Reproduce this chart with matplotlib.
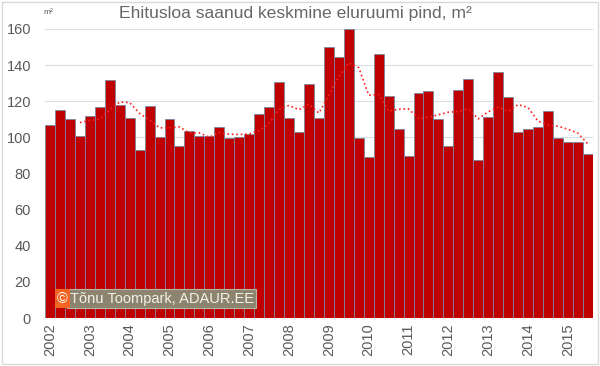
import matplotlib
matplotlib.use("Agg")
import matplotlib.pyplot as plt
import matplotlib.patches as patches
import pandas as pd

# quarterly average floor area, 2002 Q1 .. 2015 Q3
years = list(range(2002, 2016))
values = [
    106.7, 115.0, 110.0, 101.0,   # 2002
    111.7, 117.0, 131.6, 117.8,   # 2003
    110.7, 92.8, 117.2, 100.4,    # 2004
    110.4, 95.2, 103.5, 100.8,    # 2005
    100.8, 105.6, 99.7, 100.2,    # 2006
    101.9, 112.8, 116.7, 130.5,   # 2007
    110.7, 103.2, 129.4, 110.5,   # 2008
    149.9, 144.7, 159.9, 99.8,    # 2009
    89.0, 146.2, 122.7, 104.5,    # 2010
    89.7, 124.6, 125.7, 110.0,    # 2011
    95.4, 126.0, 132.1, 87.3,     # 2012
    111.3, 136.0, 122.5, 102.8,   # 2013
    104.6, 105.9, 114.6, 99.7,    # 2014
    97.6, 97.6, 90.6,             # 2015
]
title = "Ehitusloa saanud keskmine eluruumi pind, m²"

plt.rcParams['font.family'] = ['Liberation Sans', 'DejaVu Sans']
grey = '#595959'

fig = plt.figure(figsize=(6, 3.66), dpi=100)
ax = fig.add_axes([0.075, 0.131, 0.913, 0.79])

x = list(range(len(values)))
ax.bar(x, values, width=1.0, color='#C00000', edgecolor='#7A86A0', linewidth=0.6, zorder=2)

# 4 quarter moving average
ma = pd.Series(values).rolling(4).mean()
ax.plot(x, ma, color='#FF2020', linestyle=':', linewidth=1.2, zorder=3)

ax.set_xlim(-0.5, len(values) - 0.5)
ax.set_ylim(0, 160)
ax.set_yticks(range(0, 161, 20))
ax.set_xticks([i * 4 for i in range(len(years))])
ax.set_xticklabels([str(y) for y in years], rotation=90)
ax.tick_params(axis='both', length=0, labelsize=10.5, labelcolor=grey)
ax.tick_params(axis='y', pad=10)
ax.tick_params(axis='x', pad=4)
ax.grid(axis='y', color='#D9DCE6', linewidth=0.8, zorder=0)
for s in ax.spines.values():
    s.set_visible(False)

fig.text(0.492, 0.962, title, ha='center', va='center', fontsize=12.6, color='#666666')
fig.text(0.08, 0.965, "m²", ha='center', va='center', fontsize=6, color=grey)

# copyright box
ax.text(0.0215, 0.067, "©", transform=ax.transAxes, fontsize=10.5, color='white',
        va='center', ha='left', zorder=6,
        bbox=dict(boxstyle='square,pad=0.15', facecolor='#F26522', edgecolor='none'))
ax.text(0.045, 0.067, "Tõnu Toompark, ADAUR.EE", transform=ax.transAxes, fontsize=10.5,
        color='#F2F2E8', va='center', ha='left', zorder=5,
        bbox=dict(boxstyle='square,pad=0.15', facecolor='#8C846E', edgecolor='#B8B4A8', linewidth=0.8))

# outer border
fig.patches.append(patches.Rectangle((0.004, 0.006), 0.992, 0.988, transform=fig.transFigure,
                                     fill=False, edgecolor='#D9D9D9', linewidth=1))

plt.savefig("out.png", dpi=100)
